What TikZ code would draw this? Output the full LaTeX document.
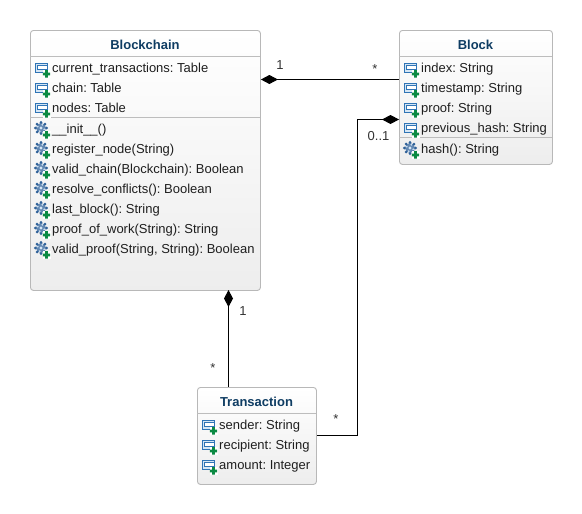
\documentclass[tikz,border=0pt]{standalone}
\usepackage{fontspec}
\setmainfont{Liberation Sans}
\usetikzlibrary{arrows.meta}
\definecolor{titleblue}{HTML}{0F3D63}
\definecolor{boxline}{HTML}{B8B8B8}
\definecolor{sepline}{HTML}{BDBDBD}
\definecolor{iconblue}{HTML}{2F74B5}
\definecolor{icondark}{HTML}{2F6199}
\definecolor{iconpale}{HTML}{D5E6F5}
\definecolor{icongreen}{HTML}{0B8A43}
\definecolor{labelgrey}{HTML}{333333}
\tikzset{
  x=1pt,y=-1pt,
  classbox/.style={draw=boxline,line width=0.9pt,rounded corners=3pt,top color=white,bottom color=black!7,inner sep=0pt,anchor=north west},
  classtitle/.style={font=\fontsize{13}{15}\selectfont\bfseries,text=titleblue,inner sep=0pt},
  member/.style={font=\fontsize{13}{15}\selectfont\frenchspacing,text=black!88,anchor=base west,inner sep=0pt},
  mult/.style={font=\fontsize{13}{15}\selectfont,text=labelgrey,anchor=base,inner sep=0pt},
  assoc/.style={draw=black,line width=1pt},
  comp/.style={assoc,{Diamond[length=17pt,width=9pt]}-},
  sepstyle/.style={draw=sepline,line width=0.9pt},
  attricon/.pic={
    \draw[iconblue,line width=1pt,fill=iconpale] (-8,-5) rectangle (4,4);
    \draw[iconblue,line width=0.9pt,fill=white] (-6,-2.5) rectangle (4,1.5);
    \fill[white] (-0.5,1.5) rectangle (7.5,9.5);
    \fill[icongreen] (2.1,2.2) rectangle (4.9,9.5) (-0.2,4.7) rectangle (7.2,7.4);
  },
  opicon/.pic={
    \fill[icondark!75] (-2,-1) circle (5pt);
    \foreach \a in {0,45,...,315}{\fill[icondark] (-2,-1) ++(\a:5.6) circle (1.5pt);}
    \foreach \a in {22,112,202,292}{\fill[iconpale] (-2,-1) ++(\a:3.4) circle (0.9pt);}
    \fill[iconpale] (-2,-1) circle (1.7pt);
    \fill[white] (-0.5,1.5) rectangle (7.5,9.5);
    \fill[icongreen] (2.1,2.2) rectangle (4.9,9.5) (-0.2,4.7) rectangle (7.2,7.4);
  },
}
\begin{document}
\begin{tikzpicture}
\useasboundingbox (0,0) rectangle (582,514);
\fill[white] (0,0) rectangle (582,514);
% class boxes
\node[classbox,minimum width=230pt,minimum height=260pt] (blockchain) at (30,30) {};
\node[classbox,minimum width=153pt,minimum height=134pt] (block) at (399,30) {};
\node[classbox,minimum width=119pt,minimum height=97pt] (transaction) at (197,387) {};
% titles
\node[classtitle] (t1) at (145,44.5) {Blockchain};
\node[classtitle] (t2) at (475.5,44.5) {Block};
\node[classtitle] (t3) at (256.5,401.5) {Transaction};
% compartment separators
\coordinate (s1a) at (30,56); \coordinate (s1b) at (260,56);
\coordinate (s2a) at (30,117); \coordinate (s2b) at (260,117);
\coordinate (s3a) at (399,56); \coordinate (s3b) at (552,56);
\coordinate (s4a) at (399,137); \coordinate (s4b) at (552,137);
\coordinate (s5a) at (197,413); \coordinate (s5b) at (316,413);
\draw[sepstyle] (s1a)--(s1b) (s2a)--(s2b) (s3a)--(s3b) (s4a)--(s4b) (s5a)--(s5b);
% Blockchain members
\pic at (43,68) {attricon}; \node[member] (a1) at (52,72.5) {current\_transactions: Table};
\pic at (43,88) {attricon}; \node[member] (a2) at (52,92.5) {chain: Table};
\pic at (43,108) {attricon}; \node[member] (a3) at (52,112.5) {nodes: Table};
\pic at (43,129) {opicon}; \node[member] (o1) at (52,133.5) {\_\_init\_\_()};
\pic at (43,149) {opicon}; \node[member] (o2) at (52,153.5) {register\_node(String)};
\pic at (43,169) {opicon}; \node[member] (o3) at (52,173.5) {valid\_chain(Blockchain): Boolean};
\pic at (43,189) {opicon}; \node[member] (o4) at (52,193.5) {resolve\_conflicts(): Boolean};
\pic at (43,209) {opicon}; \node[member] (o5) at (52,213.5) {last\_block(): String};
\pic at (43,229) {opicon}; \node[member] (o6) at (52,233.5) {proof\_of\_work(String): String};
\pic at (43,249) {opicon}; \node[member] (o7) at (52,253.5) {valid\_proof(String, String): Boolean};
% Block members
\pic at (412,68) {attricon}; \node[member] (b1) at (421,72.5) {index: String};
\pic at (412,88) {attricon}; \node[member] (b2) at (421,92.5) {timestamp: String};
\pic at (412,108) {attricon}; \node[member] (b3) at (421,112.5) {proof: String};
\pic at (412,128) {attricon}; \node[member] (b4) at (421,132.5) {previous\_hash: String};
\pic at (412,149) {opicon}; \node[member] (b5) at (421,153.5) {hash(): String};
% Transaction members
\pic at (210,425) {attricon}; \node[member] (c1) at (219,429.5) {sender: String};
\pic at (210,445) {attricon}; \node[member] (c2) at (219,449.5) {recipient: String};
\pic at (210,465) {attricon}; \node[member] (c3) at (219,469.5) {amount: Integer};
% connectors
\coordinate (p1) at (blockchain.east |- 0,79.5);
\coordinate (q1) at (block.west |- 0,79.5);
\draw[comp] (p1) -- (q1);
\coordinate (p2) at (block.west |- 0,119.5);
\coordinate (q2) at (transaction.east |- 0,435.5);
\draw[comp] (p2) -- (357.5,119.5) -- (357.5,435.5) -- (q2);
\coordinate (p3) at (228.5,290);
\coordinate (q3) at (228.5,387);
\draw[comp] (p3) -- (q3);
% multiplicities
\node[mult] (m1) at (280,69) {1};
\node[mult] (m2) at (375,74) {*};
\node[mult] (m3) at (378.5,140) {0..1};
\node[mult] (m4) at (243,315) {1};
\node[mult] (m5) at (213,372) {*};
\node[mult] (m6) at (336,423) {*};
\end{tikzpicture}
\end{document}
